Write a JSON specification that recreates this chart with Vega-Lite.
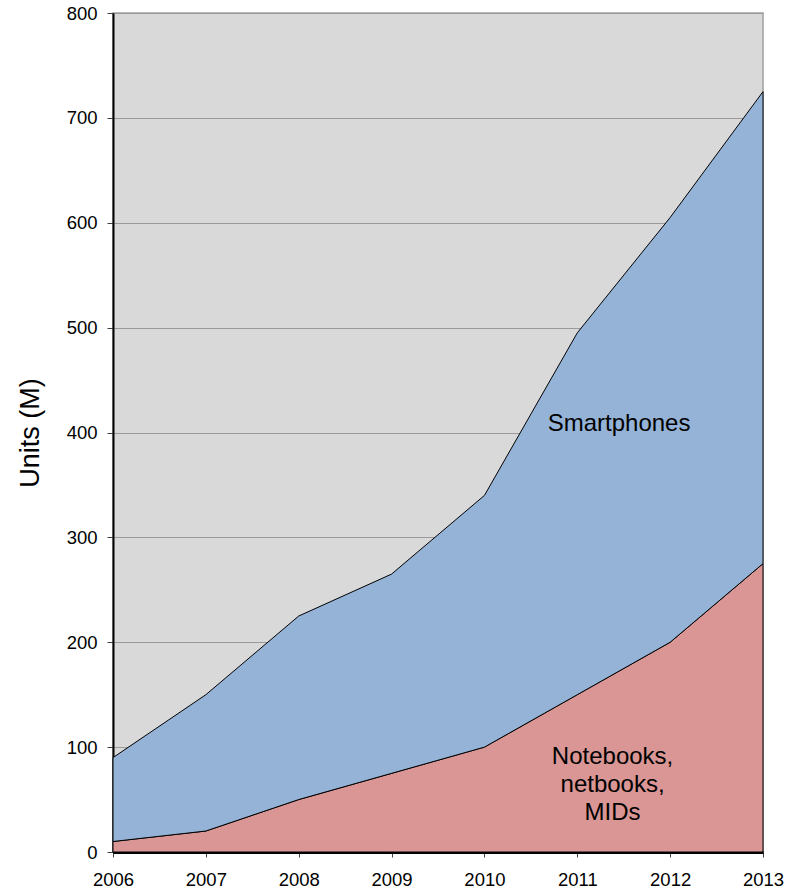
{
  "$schema": "https://vega.github.io/schema/vega-lite/v6.json",
  "width": 650,
  "height": 839,
  "autosize": {"type": "none"},
  "padding": {"left": 113, "top": 13, "right": 36, "bottom": 39},
  "background": "white",
  "config": {
    "font": "Liberation Sans",
    "view": {"fill": "#d9d9d9", "stroke": "#a0a0a0", "strokeWidth": 1.5}
  },
  "datasets": {
    "series": [
      {"year": 2006, "category": "Notebooks", "units": 10},
      {"year": 2007, "category": "Notebooks", "units": 20},
      {"year": 2008, "category": "Notebooks", "units": 50},
      {"year": 2009, "category": "Notebooks", "units": 75},
      {"year": 2010, "category": "Notebooks", "units": 100},
      {"year": 2011, "category": "Notebooks", "units": 150},
      {"year": 2012, "category": "Notebooks", "units": 200},
      {"year": 2013, "category": "Notebooks", "units": 275},
      {"year": 2006, "category": "Smartphones", "units": 80},
      {"year": 2007, "category": "Smartphones", "units": 130},
      {"year": 2008, "category": "Smartphones", "units": 175},
      {"year": 2009, "category": "Smartphones", "units": 190},
      {"year": 2010, "category": "Smartphones", "units": 240},
      {"year": 2011, "category": "Smartphones", "units": 345},
      {"year": 2012, "category": "Smartphones", "units": 405},
      {"year": 2013, "category": "Smartphones", "units": 450}
    ],
    "labels": [
      {"year": 2011.45, "units": 408, "label": "Smartphones"},
      {"year": 2011.38, "units": 91, "label": "Notebooks,\nnetbooks,\nMIDs"}
    ]
  },
  "layer": [
    {
      "data": {"name": "series"},
      "mark": {"type": "area", "stroke": "black", "strokeWidth": 1, "opacity": 1},
      "encoding": {
        "x": {
          "field": "year", "type": "quantitative",
          "scale": {"domain": [2006, 2013], "nice": false},
          "axis": {
            "title": null, "format": "d", "values": [2006, 2007, 2008, 2009, 2010, 2011, 2012, 2013],
            "grid": false, "domainColor": "black", "domainWidth": 3,
            "tickColor": "#404040", "tickSize": 5, "tickWidth": 1,
            "labelFontSize": 18.5, "labelColor": "black", "labelPadding": 13,
            "labelFlush": false
          }
        },
        "y": {
          "field": "units", "type": "quantitative", "stack": "zero",
          "scale": {"domain": [0, 800], "nice": false},
          "axis": {
            "title": "Units (M)", "titleFontSize": 27, "titleFontWeight": "normal", "titleColor": "black",
            "titlePadding": 22,
            "values": [0, 100, 200, 300, 400, 500, 600, 700, 800],
            "grid": true, "gridColor": "#9a9a9a", "gridWidth": 1,
            "domainColor": "black", "domainWidth": 2,
            "tickColor": "#404040", "tickSize": 6, "tickWidth": 1,
            "labelFontSize": 18.5, "labelColor": "black", "labelPadding": 10
          }
        },
        "color": {
          "field": "category", "type": "nominal",
          "scale": {"domain": ["Notebooks", "Smartphones"], "range": ["#d99694", "#95b3d7"]},
          "legend": null
        },
        "order": {"field": "category", "sort": "ascending"}
      }
    },
    {
      "data": {"name": "labels"},
      "mark": {"type": "text", "fontSize": 24, "color": "black", "align": "center", "baseline": "middle", "lineBreak": "\n", "lineHeight": 28},
      "encoding": {
        "x": {"field": "year", "type": "quantitative"},
        "y": {"field": "units", "type": "quantitative"},
        "text": {"field": "label"}
      }
    }
  ]
}
